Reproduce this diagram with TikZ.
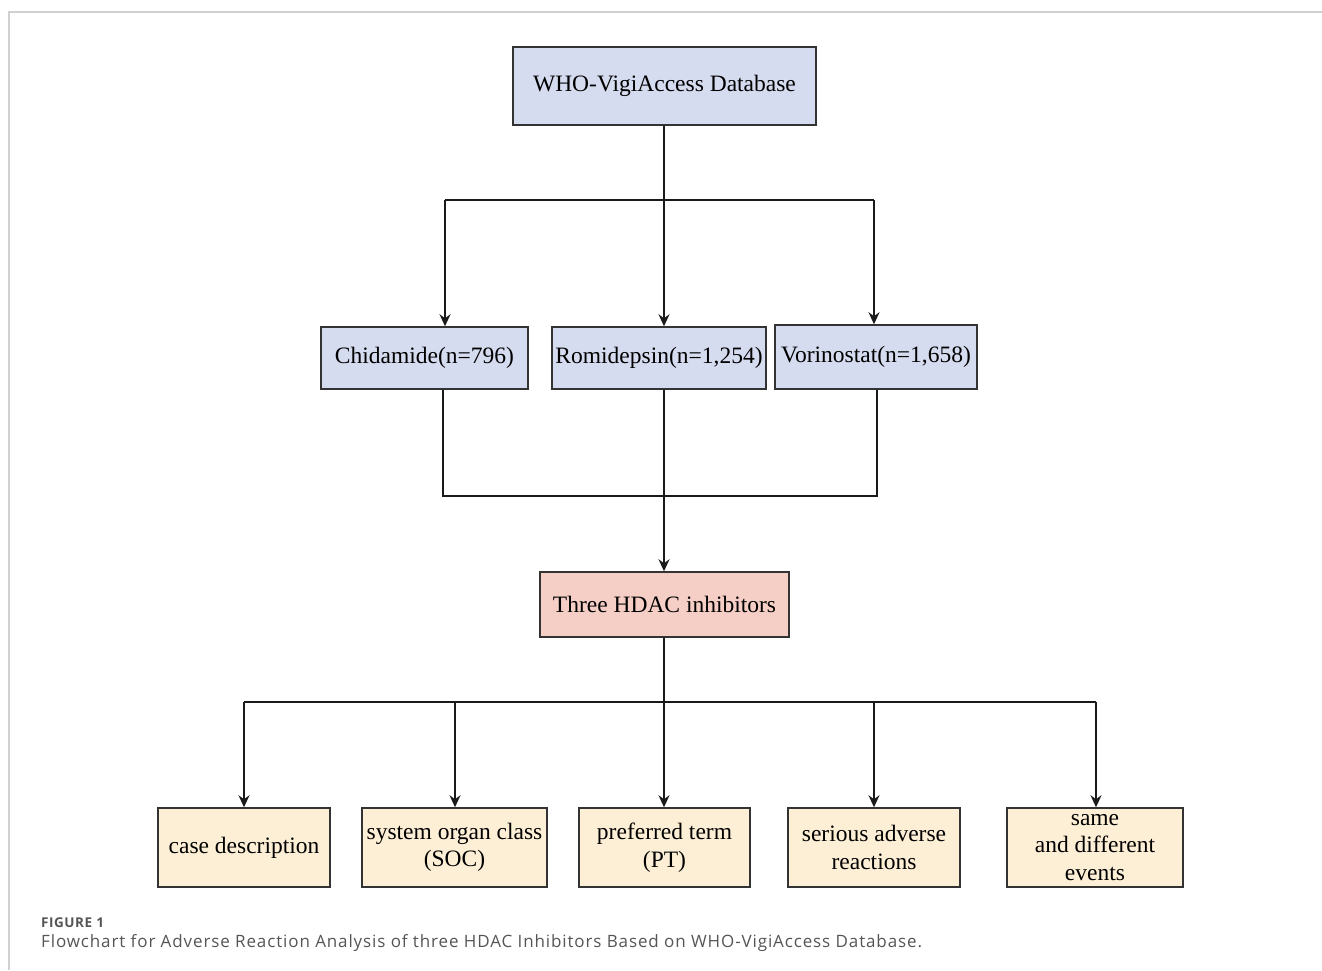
\documentclass[tikz,border=0pt]{standalone}
\usepackage{fontspec}
\setmainfont{Liberation Serif}
\newfontfamily\capfont{Open Sans}
\usetikzlibrary{arrows.meta}
\definecolor{bluefill}{HTML}{D6DCEF}
\definecolor{redfill}{HTML}{F5CEC6}
\definecolor{yelfill}{HTML}{FDEFD5}
\definecolor{edge}{HTML}{333333}
\definecolor{lineclr}{HTML}{1A1A1A}
\definecolor{framegray}{HTML}{D0D0D0}
\definecolor{capgray}{HTML}{555555}
\tikzset{
  box/.style={draw=edge, line width=1.5pt, inner sep=0pt, align=center,
    font=\fontsize{23.5}{27.5}\selectfont, text=black},
  bluebox/.style={box, fill=bluefill},
  redbox/.style={box, fill=redfill},
  yelbox/.style={box, fill=yelfill},
  conn/.style={draw=lineclr, line width=1.4pt},
  arr/.style={conn, -{Stealth[length=12pt,width=11pt]}},
}
\begin{document}
\begin{tikzpicture}[x=1pt,y=-1pt]
\useasboundingbox (0,0) rectangle (1322,970);
% frame
\draw[framegray, line width=1.5pt] (9,970) -- (9,12) -- (1322,12);
% nodes
\node[bluebox, minimum width=303pt, minimum height=78pt] (top) at (664.5,86) {WHO-VigiAccess Database};
\node[bluebox, minimum width=207pt, minimum height=62pt] (chid) at (424.5,358) {Chidamide(n=796)};
\node[bluebox, minimum width=214pt, minimum height=62pt] (rom) at (659,358) {Romidepsin(n=1,254)};
\node[bluebox, minimum width=202pt, minimum height=64pt] (vor) at (876,357) {Vorinostat(n=1,658)};
\node[redbox, minimum width=249pt, minimum height=65pt] (hdac) at (664.5,604.5) {Three HDAC inhibitors};
\node[yelbox, minimum width=172pt, minimum height=79pt] (case) at (244,847.5) {case description};
\node[yelbox, minimum width=185pt, minimum height=79pt] (soc) at (454.5,847.5) {system organ class\\(SOC)};
\node[yelbox, minimum width=171pt, minimum height=79pt] (pt) at (664.5,847.5) {preferred term\\(PT)};
\node[yelbox, minimum width=172pt, minimum height=79pt] (ser) at (874,847.5) {serious adverse\\reactions};
\node[yelbox, minimum width=176pt, minimum height=79pt] (same) at (1095,847.5) {same\\and different\\events};
% top split
\coordinate (s1) at (664,200);
\coordinate (s1l) at (445,200);
\coordinate (s1r) at (874,200);
\draw[arr] (top.south -| s1) -- (s1 |- rom.north);
\draw[conn] (s1l) -- (s1r);
\draw[arr] (s1l) -- (s1l |- chid.north);
\draw[arr] (s1r) -- (s1r |- vor.north);
% merge
\coordinate (m1l) at (443,496);
\coordinate (m1r) at (877,496);
\coordinate (m1) at (664,496);
\draw[conn] (chid.south -| m1l) -- (m1l) -- (m1r) -- (vor.south -| m1r);
\draw[arr] (rom.south -| m1) -- (m1 |- hdac.north);
% bottom split
\coordinate (b1) at (664,702);
\coordinate (b1l) at (244,702);
\coordinate (b1r) at (1096,702);
\draw[conn] (hdac.south -| b1) -- (b1);
\draw[conn] (b1l) -- (b1r);
\foreach \n/\x in {case/244, soc/455, pt/664, ser/874, same/1096}
  \draw[arr] (\x,702) -- (\n.north -| \x,702);
% caption
\node[anchor=base west, inner sep=0pt, text=capgray, font=\capfont\bfseries\fontsize{13.5}{15}\selectfont\addfontfeatures{LetterSpace=4}] (fig) at (41,927) {FIGURE 1};
\node[anchor=base west, inner sep=0pt, text=capgray, font=\capfont\fontsize{17}{19}\selectfont\addfontfeatures{LetterSpace=5.2}] (cap) at (41,947) {Flowchart for Adverse Reaction Analysis of three HDAC Inhibitors Based on WHO-VigiAccess Database.};
\end{tikzpicture}
\end{document}
